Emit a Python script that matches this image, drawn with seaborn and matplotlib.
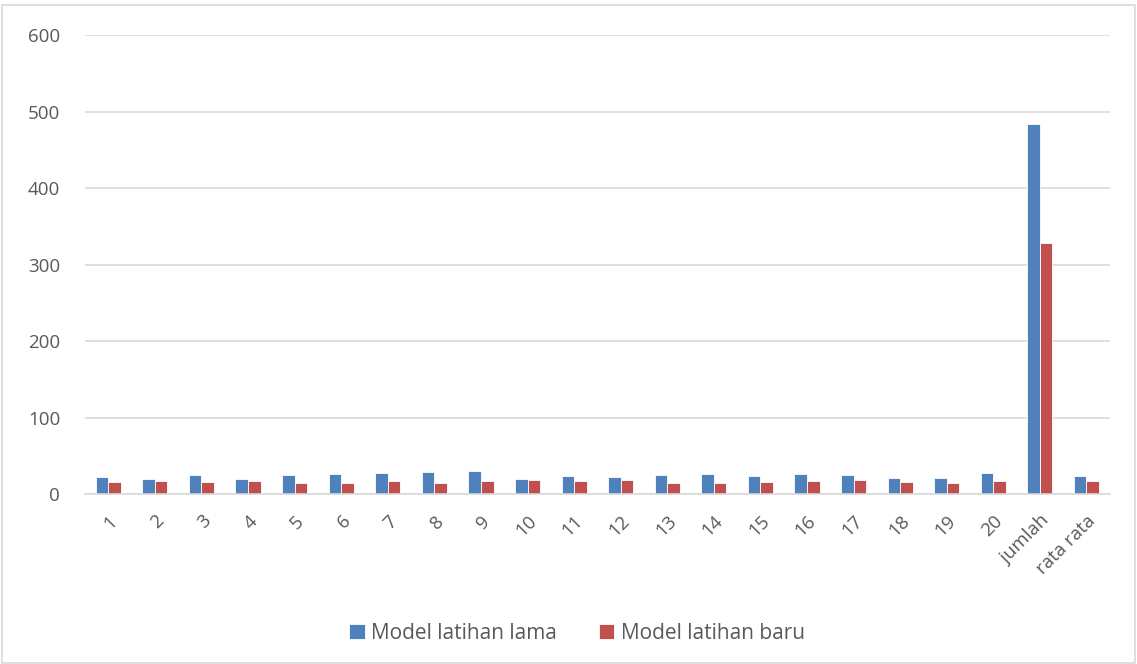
import matplotlib
matplotlib.use("Agg")
import matplotlib.pyplot as plt
import seaborn as sns
import pandas as pd
from matplotlib.patches import Rectangle

categories = [str(i) for i in range(1, 21)] + ["jumlah", "rata rata"]
lama = [22, 19, 25, 20, 25, 26, 27, 29, 30, 20, 23, 22, 25, 26, 23, 26, 25, 21, 21, 28, 484, 24.2]
baru = [16, 17, 16, 17, 15, 14, 17, 14, 17, 18, 17, 18, 15, 14, 16, 17, 18, 16, 14, 17, 328, 16.4]
series_names = ["Model latihan lama", "Model latihan baru"]
y_ticks = [0, 100, 200, 300, 400, 500, 600]

df = pd.DataFrame({
    "kategori": categories * 2,
    "nilai": lama + baru,
    "model": [series_names[0]] * len(categories) + [series_names[1]] * len(categories),
})

sns.set_theme(style="white")
plt.rcParams["font.family"] = ["Open Sans", "DejaVu Sans"]

fig = plt.figure(figsize=(11.37, 6.64), dpi=100)
ax = fig.add_axes([0.0748, 0.256, 0.9012, 0.691])

palette = {series_names[0]: "#4F81BD", series_names[1]: "#C0504D"}
sns.barplot(data=df, x="kategori", y="nilai", hue="model", order=categories,
            hue_order=series_names, palette=palette, width=0.54, gap=0.0,
            edgecolor="white", linewidth=0.6, saturation=1, ax=ax)

ax.set_ylim(0, 600)
ax.set_yticks(y_ticks)
ax.set_xlim(-0.5, len(categories) - 0.5)
ax.yaxis.grid(True, color="#D9D9D9", linewidth=1.2)
ax.set_axisbelow(True)
for side in ["left", "right", "top"]:
    ax.spines[side].set_visible(False)
ax.spines["bottom"].set_color("#D9D9D9")
ax.spines["bottom"].set_linewidth(1.2)
ax.set_xlabel("")
ax.set_ylabel("")
ax.tick_params(axis="both", length=0, colors="#595959", labelsize=13.5)
ax.tick_params(axis="y", pad=18)
plt.setp(ax.get_xticklabels(), rotation=45, ha="right", rotation_mode="anchor")
ax.tick_params(axis="x", pad=13)

ax.legend(loc="upper center", bbox_to_anchor=(0.48, -0.24), ncol=2, frameon=False,
          fontsize=15, handlelength=0.75, handleheight=0.75, handletextpad=0.3,
          columnspacing=2.0, labelcolor="#595959")

fig.patches.append(Rectangle((0.002, 0.002), 0.996, 0.99, transform=fig.transFigure,
                             fill=False, edgecolor="#D9D9D9", linewidth=1.2))

fig.savefig("out.png", dpi=100, facecolor="white")
